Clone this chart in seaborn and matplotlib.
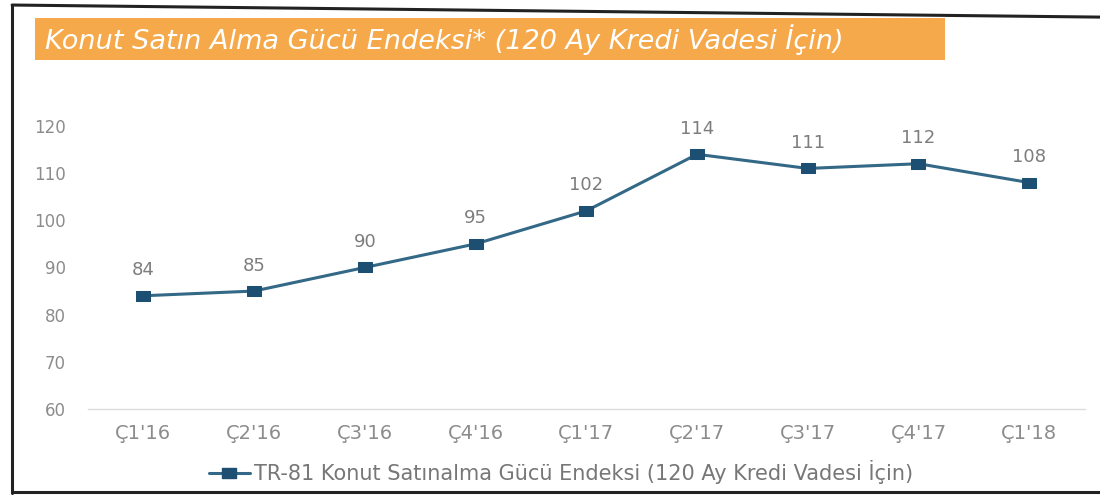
import pandas as pd
import matplotlib
matplotlib.use("Agg")
from matplotlib import pyplot as plt
from matplotlib.patches import Rectangle
from matplotlib.lines import Line2D
from matplotlib.path import Path
import seaborn as sns

quarters = ["Ç1'16", "Ç2'16", "Ç3'16", "Ç4'16", "Ç1'17", "Ç2'17", "Ç3'17", "Ç4'17", "Ç1'18"]
index_values = [84, 85, 90, 95, 102, 114, 111, 112, 108]
y_ticks = [60, 70, 80, 90, 100, 110, 120]

title = "Konut Satın Alma Gücü Endeksi* (120 Ay Kredi Vadesi İçin)"
series_name = "TR-81 Konut Satınalma Gücü Endeksi (120 Ay Kredi Vadesi İçin)"

df = pd.DataFrame({"quarter": quarters, "value": index_values})
df["pos"] = range(len(df))

sns.set_style("white")
plt.rcParams["font.family"] = ["DejaVu Sans"]

line_color = "#336886"
marker_color = "#1d4f72"
text_gray = "#8c8c8c"

# wide square marker (the scan is stretched sideways)
wide_box = Path([(-1.3, -1), (1.3, -1), (1.3, 1), (-1.3, 1), (-1.3, -1)],
                [Path.MOVETO, Path.LINETO, Path.LINETO, Path.LINETO, Path.CLOSEPOLY])

fig = plt.figure(figsize=(11, 5.03), dpi=100)
ax = fig.add_axes([0.08, 0.187, 0.906, 0.5625])

sns.lineplot(data=df, x="pos", y="value", ax=ax, color=line_color, linewidth=2.2,
             marker=wide_box, markersize=10, markerfacecolor=marker_color,
             markeredgecolor=marker_color)

for _, row in df.iterrows():
    ax.text(row["pos"], row["value"] + 3.5, str(row["value"]), ha="center", va="bottom",
            fontsize=13, color="#7d7d7d")

ax.set_xlim(-0.5, len(quarters) - 0.5)
ax.set_ylim(60, 120)
ax.set_yticks(y_ticks)
ax.set_xticks(df["pos"])
ax.set_xticklabels(quarters)
ax.tick_params(axis="both", colors=text_gray, length=0)
ax.tick_params(axis="x", pad=11, labelsize=14)
ax.tick_params(axis="y", pad=16, labelsize=12)
ax.set_xlabel("")
ax.set_ylabel("")
for side in ["top", "right", "left"]:
    ax.spines[side].set_visible(False)
ax.spines["bottom"].set_color("#dcdcdc")
ax.spines["bottom"].set_linewidth(1)

# outer scan frame
fig.add_artist(Line2D([0.011, 0.011], [0.02, 0.99], color="#222222", linewidth=2.2))
fig.add_artist(Line2D([0.011, 1.0], [0.022, 0.022], color="#222222", linewidth=2.2))
fig.add_artist(Line2D([0.011, 1.0], [0.99, 0.966], color="#222222", linewidth=2.2))

# orange title banner
fig.add_artist(Rectangle((0.032, 0.881), 0.827, 0.084, transform=fig.transFigure,
                         facecolor="#f5a94a", edgecolor="none"))
fig.text(0.041, 0.921, title, color="white", fontsize=19.5, style="italic",
         va="center", ha="left")

handle = Line2D([], [], color=line_color, linewidth=2.2, marker=wide_box, markersize=10,
                markerfacecolor=marker_color, markeredgecolor=marker_color)
fig.legend([handle], [series_name], loc="center", bbox_to_anchor=(0.51, 0.062),
           frameon=False, fontsize=15, labelcolor="#777777", handlelength=2.0,
           handletextpad=0.2)

fig.savefig("out.png", dpi=100)
